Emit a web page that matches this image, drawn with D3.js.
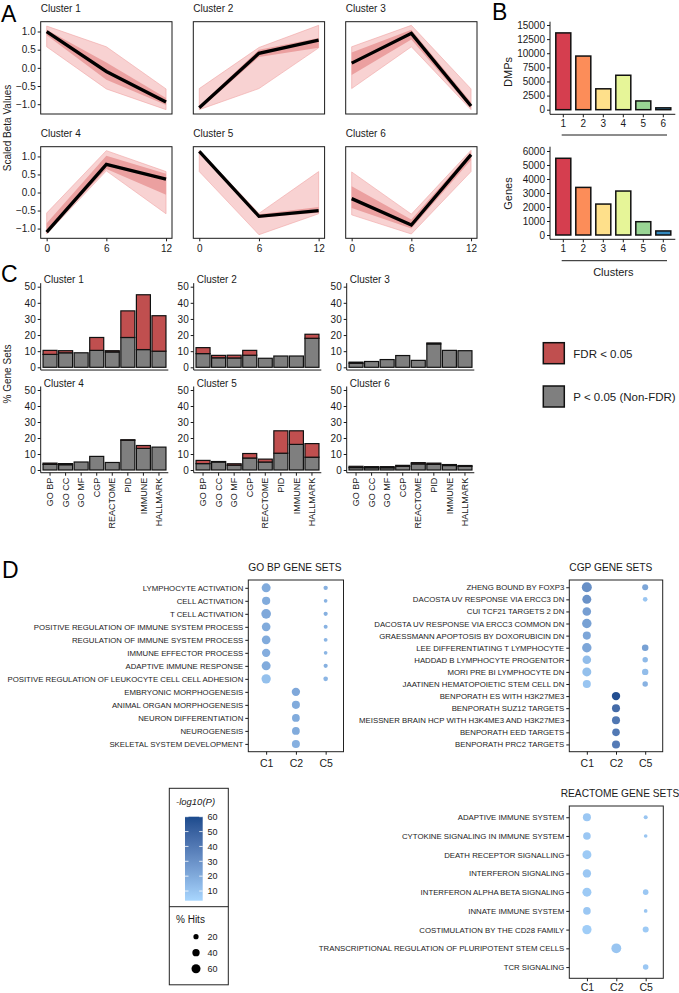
<!DOCTYPE html>
<html><head><meta charset="utf-8">
<script src="https://cdn.jsdelivr.net/npm/d3@7"></script>
<style>body{margin:0;background:#fff}svg{display:block}text{font-family:"Liberation Sans",Arial,Helvetica,sans-serif}</style>
</head><body><svg id="c" width="679" height="993"></svg>
<script>
// ---------- DATA ----------
// Panel A
const timepoints = [0, 6, 12];
const clusterNames = ["Cluster 1","Cluster 2","Cluster 3","Cluster 4","Cluster 5","Cluster 6"];
const medianBeta = [[1.0,-0.1,-0.94],[-1.1,0.4,0.76],[0.13,0.95,-1.05],[-1.1,0.78,0.37],[1.14,-0.66,-0.5],[-0.17,-0.9,1.05]];
const outerHigh = [[1.15,0.58,-0.58],[-0.57,0.56,1.17],[0.58,1.17,-0.58],[-0.57,1.16,0.58],[1.17,-0.58,0.58],[0.57,-0.6,1.17]];
const outerLow  = [[0.58,-0.58,-1.15],[-1.15,-0.57,0.55],[-0.57,0.58,-1.15],[-1.15,0.6,-0.59],[0.58,-1.17,-0.59],[-0.62,-1.15,0.58]];
const innerHigh = [[1.05,0.15,-0.83],[-1.05,0.5,0.82],[0.42,1.05,-0.95],[-0.85,1.02,0.52],[1.16,-0.6,-0.4],[0.17,-0.75,1.12]];
const innerLow  = [[0.9,-0.33,-1.02],[-1.15,0.3,0.55],[-0.2,0.78,-1.12],[-1.12,0.65,-0.06],[1.1,-0.7,-0.56],[-0.43,-1.0,0.9]];
const betaTicks = [-1.0,-0.5,0.0,0.5,1.0];
// Panel B
const clusterIds = ["1","2","3","4","5","6"];
const dmpCounts = [13600, 9500, 3700, 6100, 1550, 330];
const geneCounts = [5480, 3400, 2210, 3140, 950, 290];
const clusterColors = ["#d53e4f","#fc8d59","#fee08b","#e6f598","#99d594","#3288bd"];
const dmpTicks = [0,2500,5000,7500,10000,12500,15000];
const geneTicks = [0,1000,2000,3000,4000,5000,6000];
// Panel C
const collections = ["GO BP","GO CC","GO MF","CGP","REACTOME","PID","IMMUNE","HALLMARK"];
const pctNonFdr = [
  [8,9,9,10.5,9.5,18.5,11,10],
  [8.5,5.9,5.8,7.5,5.6,7,7,18],
  [2.5,3.6,4.8,7.3,4.3,14.5,10.5,10.3],
  [3.5,3.3,5,8.5,4.7,18.6,13.5,14.3],
  [4,5,3,7.5,5,10.5,16,8],
  [1.5,1.4,1.4,2.3,3.8,3.5,2.8,2.3]];
const pctFdr = [
  [2.5,1.3,0,8,0.8,16.5,34,22],
  [3.7,1.5,1.7,3,0,0,0,2.5],
  [0.7,0,0,0,0,0.6,0,0],
  [0.8,0.7,0,0,0,0.3,1.8,0],
  [2,0.3,0.9,2.8,1.8,14,8.5,8.5],
  [0.8,0.7,0.7,0.6,0.8,0.8,0.6,0.5]];
const percentTicks = [0,10,20,30,40,50];
// Panel D
const dotClusters = ["C1","C2","C5"];
const goBpTerms = ["LYMPHOCYTE ACTIVATION","CELL ACTIVATION","T CELL ACTIVATION","POSITIVE REGULATION OF IMMUNE SYSTEM PROCESS","REGULATION OF IMMUNE SYSTEM PROCESS","IMMUNE EFFECTOR PROCESS","ADAPTIVE IMMUNE RESPONSE","POSITIVE REGULATION OF LEUKOCYTE CELL CELL ADHESION","EMBRYONIC MORPHOGENESIS","ANIMAL ORGAN MORPHOGENESIS","NEURON DIFFERENTIATION","NEUROGENESIS","SKELETAL SYSTEM DEVELOPMENT"];
// [term index, cluster, % hits, -log10(P)]
const goBpDots = [
  [0,"C1",60,20],[1,"C1",50,20],[2,"C1",70,21],[3,"C1",56,20],[4,"C1",56,20],[5,"C1",52,19],[6,"C1",60,20],[7,"C1",64,12],
  [0,"C5",14,18],[1,"C5",10,17],[2,"C5",13,18],[3,"C5",12,17],[4,"C5",11,16],[5,"C5",10,16],[6,"C5",13,18],[7,"C5",16,16],
  [8,"C2",52,21],[9,"C2",48,20],[10,"C2",45,20],[11,"C2",45,20],[12,"C2",48,18]];
const cgpTerms = ["ZHENG BOUND BY FOXP3","DACOSTA UV RESPONSE VIA ERCC3 DN","CUI TCF21 TARGETS 2 DN","DACOSTA UV RESPONSE VIA ERCC3 COMMON DN","GRAESSMANN APOPTOSIS BY DOXORUBICIN DN","LEE DIFFERENTIATING T LYMPHOCYTE","HADDAD B LYMPHOCYTE PROGENITOR","MORI PRE BI LYMPHOCYTE DN","JAATINEN HEMATOPOIETIC STEM CELL DN","BENPORATH ES WITH H3K27ME3","BENPORATH SUZ12 TARGETS","MEISSNER BRAIN HCP WITH H3K4ME3 AND H3K27ME3","BENPORATH EED TARGETS","BENPORATH PRC2 TARGETS"];
const cgpDots = [
  [0,"C1",74,31],[1,"C1",60,30],[2,"C1",55,25],[3,"C1",66,24],[4,"C1",48,22],[5,"C1",66,22],[6,"C1",55,13],[7,"C1",60,12],[8,"C1",48,10],
  [0,"C5",27,22],[1,"C5",16,10],[5,"C5",32,24],[6,"C5",22,14],[7,"C5",30,13],[8,"C5",22,17],
  [9,"C2",52,58],[10,"C2",48,46],[11,"C2",48,41],[12,"C2",43,40],[13,"C2",48,39]];
const reactomeTerms = ["ADAPTIVE IMMUNE SYSTEM","CYTOKINE SIGNALING IN IMMUNE SYSTEM","DEATH RECEPTOR SIGNALLING","INTERFERON SIGNALING","INTERFERON ALPHA BETA SIGNALING","INNATE IMMUNE SYSTEM","COSTIMULATION BY THE CD28 FAMILY","TRANSCRIPTIONAL REGULATION OF PLURIPOTENT STEM CELLS","TCR SIGNALING"];
const reactomeDots = [
  [0,"C1",48,9],[1,"C1",43,9],[2,"C1",60,8],[3,"C1",52,9],[4,"C1",60,8],[5,"C1",43,9],[6,"C1",64,7],
  [7,"C2",72,10],
  [0,"C5",12,10],[1,"C5",10,10],[4,"C5",23,9],[5,"C5",10,10],[6,"C5",27,8],[8,"C5",23,9]];
const logPTicks = [10,20,30,40,50,60];
const hitsLegend = [20,40,60];

// ---------- DRAW ----------
const svg = d3.select("#c");
const ink = "#1a1a1a";
function letter(t,x,y){svg.append("text").attr("x",x).attr("y",y).attr("font-size",23).attr("fill","#000").text(t);}
letter("A",1,21.5); letter("B",492,19.5); letter("C",1,281.5); letter("D",2,578);

function styleAxis(g,fs){
  g.selectAll("text").attr("font-size",fs).attr("fill",ink).attr("font-family",'"Liberation Sans",Arial,sans-serif');
  g.selectAll("line").attr("stroke",ink);
  g.select(".domain").remove();
}

// ----- Panel A -----
const aColX=[40.7,193.3,345.7], aW=131.3, aRowY=[[21.7,114],[146.7,238.3]];
clusterNames.forEach((name,i)=>{
  const c=i%3, r=Math.floor(i/3);
  const x0=aColX[c], yt=aRowY[r][0], yb=aRowY[r][1];
  const x=d3.scaleLinear().domain([-0.6,12.6]).range([x0,x0+aW]);
  const y=d3.scaleLinear().domain([-1.27,1.27]).range([yb,yt]);
  const g=svg.append("g");
  const area=(hi,lo)=>d3.area().x((d,j)=>x(timepoints[j])).y0((d,j)=>y(lo[j])).y1((d,j)=>y(hi[j]));
  g.append("path").datum(timepoints).attr("d",area(outerHigh[i],outerLow[i])).attr("fill","#f8d2d2").attr("stroke","#f0a4a4").attr("stroke-width",0.6);
  g.append("path").datum(timepoints).attr("d",area(innerHigh[i],innerLow[i])).attr("fill","#eba0a0");
  g.append("path").datum(medianBeta[i]).attr("d",d3.line().x((d,j)=>x(timepoints[j])).y(d=>y(d))).attr("fill","none").attr("stroke","#000").attr("stroke-width",3.3);
  g.append("rect").attr("x",x0).attr("y",yt).attr("width",aW).attr("height",yb-yt).attr("fill","none").attr("stroke",ink).attr("stroke-width",1);
  g.append("text").attr("x",x0).attr("y",yt-9.5).attr("font-size",10).attr("fill",ink).text(name);
  if(c===0){
    const ax=g.append("g").attr("transform",`translate(${x0},0)`).call(d3.axisLeft(y).tickValues(betaTicks).tickSize(3).tickPadding(2).tickFormat(d3.format(".1f")));
    styleAxis(ax,10);
  }
  if(r===1){
    const ax=g.append("g").attr("transform",`translate(0,${yb})`).call(d3.axisBottom(x).tickValues(timepoints).tickSize(3).tickPadding(4));
    styleAxis(ax,10);
  }
});
svg.append("text").attr("transform","translate(10.5,128) rotate(-90)").attr("text-anchor","middle").attr("font-size",10).attr("fill",ink).text("Scaled Beta Values");

// ----- Panel B -----
const bX=d3.scaleBand().domain(clusterIds).range([553.3,673.3]).paddingInner(0.25).paddingOuter(0.125);
function barChart(values,ticks,domain,yb,yt,label,labelY,ulY){
  const y=d3.scaleLinear().domain(domain).range([yb,yt]);
  const g=svg.append("g");
  g.selectAll("rect").data(values).join("rect")
    .attr("x",(d,i)=>bX(clusterIds[i])).attr("width",bX.bandwidth())
    .attr("y",d=>y(d)).attr("height",d=>y(0)-y(d))
    .attr("fill",(d,i)=>clusterColors[i]).attr("stroke","#111").attr("stroke-width",1.5);
  const ay=g.append("g").attr("transform","translate(550,0)").call(d3.axisLeft(y).tickValues(ticks).tickSize(3).tickPadding(2).tickFormat(d3.format("d")));
  styleAxis(ay,10);
  g.append("line").attr("x1",550).attr("x2",550).attr("y1",yt).attr("y2",yb).attr("stroke",ink);
  g.append("line").attr("x1",550).attr("x2",675.3).attr("y1",yb).attr("y2",yb).attr("stroke",ink);
  const ax=g.append("g").attr("transform",`translate(0,${yb})`).call(d3.axisBottom(bX).tickSize(3).tickPadding(3));
  styleAxis(ax,10);
  g.append("line").attr("x1",561.7).attr("x2",667).attr("y1",ulY).attr("y2",ulY).attr("stroke",ink).attr("stroke-width",1);
  g.append("text").attr("transform",`translate(511.5,${labelY}) rotate(-90)`).attr("text-anchor","middle").attr("font-size",11).attr("fill",ink).text(label);
}
barChart(dmpCounts,dmpTicks,[-815,15584],114.3,21.7,"DMPs",72,135);
barChart(geneCounts,geneTicks,[-307,6307],239.3,146.7,"Genes",193.5,260.7);
svg.append("text").attr("x",613.3).attr("y",275.5).attr("text-anchor","middle").attr("font-size",11).attr("fill",ink).text("Clusters");

// ----- Panel C -----
const cColX=[40.7,193.7,346.7], cW=127.6;
const cRow=[{y0:367.3,y50:286.7},{y0:470,y50:390}];
clusterNames.forEach((name,i)=>{
  const c=i%3, r=Math.floor(i/3);
  const x0=cColX[c];
  const x=d3.scaleBand().domain(collections).range([x0,x0+cW]).paddingInner(0.1).paddingOuter(0.15);
  const y=d3.scaleLinear().domain([0,50]).range([cRow[r].y0,cRow[r].y50]);
  const g=svg.append("g");
  const base=y(-1.7), top=y(52.2);
  collections.forEach((col,j)=>{
    const gv=pctNonFdr[i][j], fv=pctFdr[i][j];
    g.append("rect").attr("x",x(col)).attr("width",x.bandwidth()).attr("y",y(gv)).attr("height",y(0)-y(gv))
      .attr("fill","#7f7f7f").attr("stroke","#111").attr("stroke-width",1.2);
    if(fv>0){
      g.append("rect").attr("x",x(col)).attr("width",x.bandwidth()).attr("y",y(gv+fv)).attr("height",y(gv)-y(gv+fv))
        .attr("fill","#c04f4f").attr("stroke","#111").attr("stroke-width",1.2);
    }
  });
  const ay=g.append("g").attr("transform",`translate(${x0},0)`).call(d3.axisLeft(y).tickValues(percentTicks).tickSize(3).tickPadding(2));
  styleAxis(ay,10);
  g.append("line").attr("x1",x0).attr("x2",x0).attr("y1",top).attr("y2",base).attr("stroke",ink);
  g.append("line").attr("x1",x0).attr("x2",x0+cW).attr("y1",base).attr("y2",base).attr("stroke",ink);
  g.append("text").attr("x",x0+3).attr("y",y(50)-3.3).attr("font-size",10).attr("fill",ink).text(name);
  if(r===1){
    collections.forEach(col=>{
      const xc=x(col)+x.bandwidth()/2;
      g.append("line").attr("x1",xc).attr("x2",xc).attr("y1",base).attr("y2",base+3).attr("stroke",ink);
      g.append("text").attr("transform",`translate(${xc+3.2},${base+5}) rotate(-90)`).attr("text-anchor","end")
        .attr("font-size",9).attr("fill",ink).text(col);
    });
  }
});
svg.append("text").attr("transform","translate(10.5,374) rotate(-90)").attr("text-anchor","middle").attr("font-size",10).attr("fill",ink).text("% Gene Sets");
// legend
const cLegend=[["FDR < 0.05","#c04f4f",342.7],["P < 0.05 (Non-FDR)","#7f7f7f",386]];
cLegend.forEach(([t,col,yy])=>{
  svg.append("rect").attr("x",543.3).attr("y",yy).attr("width",21).attr("height",21).attr("fill",col).attr("stroke","#111").attr("stroke-width",1.5);
  svg.append("text").attr("x",573.3).attr("y",yy+15).attr("font-size",11.5).attr("fill",ink).text(t);
});

// ----- Panel D -----
const colorScale=d3.scaleLinear().domain([3.5,60]).range(["#a8d6fe","#1c4b8d"]).interpolate(d3.interpolateLab);
const sizeScale=d3.scaleSqrt().domain([0,100]).range([0,5.8]);
function dotPlot(terms,dots,box,title,titleX,titleY,labY){
  const x=d3.scalePoint().domain(dotClusters).range([box.x0,box.x1]).padding(0.6);
  const y=d3.scalePoint().domain(terms).range([box.y0,box.y1]).padding(0.6);
  const g=svg.append("g");
  g.append("rect").attr("x",box.x0).attr("y",box.y0).attr("width",box.x1-box.x0).attr("height",box.y1-box.y0).attr("fill","none").attr("stroke","#222").attr("stroke-width",1);
  g.selectAll("circle").data(dots).join("circle")
    .attr("cx",d=>x(d[1])).attr("cy",d=>y(terms[d[0]])).attr("r",d=>sizeScale(d[2])).attr("fill",d=>colorScale(d[3]));
  const ay=g.append("g").attr("transform",`translate(${box.x0},0)`).call(d3.axisLeft(y).tickSize(3).tickPadding(2));
  styleAxis(ay,7.8);
  const ax=g.append("g").attr("transform",`translate(0,${box.y1})`).call(d3.axisBottom(x).tickSize(3).tickPadding(2));
  styleAxis(ax,10.5);
  ax.selectAll("text").attr("dy",null).attr("y",labY-box.y1);
  g.append("text").attr("x",titleX).attr("y",titleY).attr("font-size",10.2).attr("fill",ink).text(title);
}
dotPlot(goBpTerms,goBpDots,{x0:248.3,x1:343.5,y0:580,y1:751.7},"GO BP GENE SETS",248.3,570.5,767);
dotPlot(cgpTerms,cgpDots,{x0:569.3,x1:662.7,y0:580,y1:751.7},"CGP GENE SETS",569.3,570.5,767);
dotPlot(reactomeTerms,reactomeDots,{x0:569.3,x1:663.3,y0:806,y1:978.3},"REACTOME GENE SETS",560.7,797,991.5);

// legend D
const lg=svg.append("g");
lg.append("rect").attr("x",169.3).attr("y",788.3).attr("width",59).attr("height",196.5).attr("fill","none").attr("stroke","#222").attr("stroke-width",1);
lg.append("line").attr("x1",169.3).attr("x2",228.3).attr("y1",906.7).attr("y2",906.7).attr("stroke","#222");
lg.append("text").attr("x",176).attr("y",805).attr("font-size",9.5).attr("font-style","italic").attr("fill",ink).text("-log10(P)");
const defs=svg.append("defs");
const grad=defs.append("linearGradient").attr("id","lgrad").attr("x1",0).attr("y1",1).attr("x2",0).attr("y2",0);
d3.range(0,1.0001,0.1).forEach(t=>grad.append("stop").attr("offset",t).attr("stop-color",colorScale(3.5+t*56.5)));
const ly=d3.scaleLinear().domain([3.5,60]).range([900.7,816.7]);
lg.append("rect").attr("x",185).attr("y",816.7).attr("width",17.7).attr("height",84).attr("fill","url(#lgrad)");
logPTicks.forEach(v=>{
  lg.append("line").attr("x1",185).attr("x2",188.5).attr("y1",ly(v)).attr("y2",ly(v)).attr("stroke","#fff").attr("stroke-width",0.8);
  lg.append("line").attr("x1",199.2).attr("x2",202.7).attr("y1",ly(v)).attr("y2",ly(v)).attr("stroke","#fff").attr("stroke-width",0.8);
  lg.append("text").attr("x",207.5).attr("y",ly(v)+3.2).attr("font-size",9).attr("fill",ink).text(v);
});
lg.append("text").attr("x",176).attr("y",923).attr("font-size",10).attr("fill",ink).text("% Hits");
hitsLegend.forEach((v,i)=>{
  const yy=936.7+i*16;
  lg.append("circle").attr("cx",196).attr("cy",yy).attr("r",sizeScale(v)).attr("fill","#000");
  lg.append("text").attr("x",207.5).attr("y",yy+3.2).attr("font-size",9).attr("fill",ink).text(v);
});
</script></body></html>
